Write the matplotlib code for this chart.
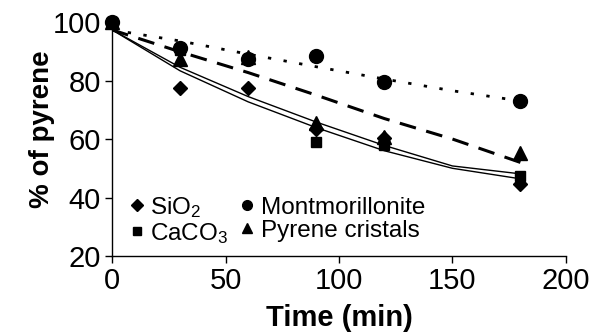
import matplotlib

matplotlib.use("Agg")
import matplotlib.pyplot as plt
from matplotlib.lines import Line2D

plt.rcParams["font.family"] = ["Liberation Sans", "DejaVu Sans"]
plt.rcParams["mathtext.fontset"] = "custom"
plt.rcParams["mathtext.rm"] = "Liberation Sans"
plt.rcParams["mathtext.it"] = "Liberation Sans:italic"
plt.rcParams["mathtext.bf"] = "Liberation Sans:bold"

# ----- measured points (% of pyrene remaining) ------------------------------
time_pts = [0, 30, 60, 90, 120, 180]
sio2 = [100, 77.5, 77.5, 63.5, 60.5, 44.8]
caco3 = [100, 90.5, 87.5, 59, 58, 47.5]
montmorillonite = [100, 91, 87.5, 88.5, 79.5, 73]
pyrene_cristals = [100, 87.5, 88, 65.5, 60.8, 55.3]

# ----- fitted curves --------------------------------------------------------
time_fit = [0, 30, 60, 90, 120, 150, 180]
fit_caco3 = [97.3, 84.5, 74.5, 65.8, 57.8, 50.8, 48.1]
fit_sio2 = [97.3, 83.3, 72.7, 63.9, 56.0, 50.0, 46.4]
fit_mont = [97.3, 93.5, 89.0, 84.7, 80.5, 76.5, 73.0]
fit_pyrene = [97.3, 89.8, 82.7, 75.0, 67.0, 60.0, 52.0]

fig = plt.figure(figsize=(5.9, 3.33), dpi=100)
ax = fig.add_axes([0.19, 0.231, 0.769, 0.703])

ax.plot(time_fit, fit_caco3, color="black", lw=1.0)
ax.plot(time_fit, fit_sio2, color="black", lw=1.0)
ax.plot(time_fit, fit_mont, color="black", lw=2.0, ls=(0, (1.2, 4.5)))
ax.plot(time_fit, fit_pyrene, color="black", lw=2.2, ls=(0, (5.5, 3.5)))

ax.plot(time_pts, sio2, "D", color="black", ms=7.5, clip_on=False)
ax.plot(time_pts, caco3, "s", color="black", ms=7, clip_on=False)
ax.plot(time_pts, montmorillonite, "o", color="black", ms=10, clip_on=False)
ax.plot(time_pts, pyrene_cristals, "^", color="black", ms=9.5, clip_on=False)

ax.set_xlim(0, 200)
ax.set_ylim(20, 100)
ax.set_xticks([0, 50, 100, 150, 200])
ax.set_yticks([20, 40, 60, 80, 100])
ax.tick_params(labelsize=21, direction="out", length=5, width=1, pad=3)
for side in ("top", "right"):
    ax.spines[side].set_visible(False)
for side in ("left", "bottom"):
    ax.spines[side].set_linewidth(1)

ax.set_xlabel("Time (min)", fontsize=21, fontweight="bold", labelpad=6)
ax.set_ylabel("% of pyrene", fontsize=20, fontweight="bold")
ax.yaxis.set_label_coords(-0.125, 0.54)

handles = [
    Line2D([], [], ls="none", marker="D", color="black", ms=6),
    Line2D([], [], ls="none", marker="s", color="black", ms=6),
    Line2D([], [], ls="none", marker="o", color="black", ms=7),
    Line2D([], [], ls="none", marker="^", color="black", ms=7),
]
labels = ["SiO$_2$", "CaCO$_3$", "Montmorillonite", "Pyrene cristals"]
ax.legend(handles, labels, ncol=2, loc="lower left", bbox_to_anchor=(0.011, 0.003),
          frameon=False, fontsize=17.5, handlelength=0.8, handletextpad=0.14,
          columnspacing=0.4, labelspacing=0.05, borderaxespad=0)

fig.savefig("out.png", dpi=100)
